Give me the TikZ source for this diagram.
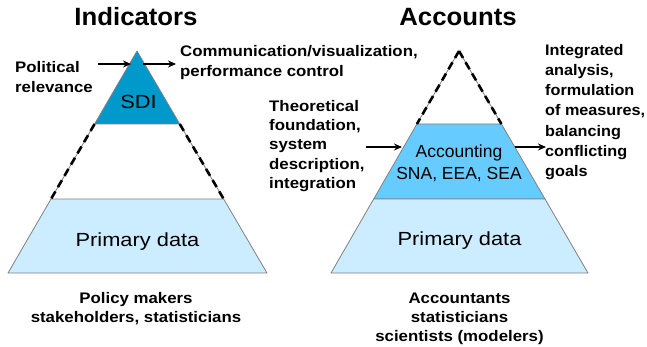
\documentclass[tikz,border=0pt]{standalone}
\usepackage{fontspec}
\setmainfont{Liberation Sans}
\newfontfamily\widefont[FakeStretch=1.15]{Liberation Sans}
\newfontfamily\labfont[FakeStretch=1.1]{Liberation Sans}
\newfontfamily\narlabfont[FakeStretch=1.06]{Liberation Sans}
\newfontfamily\titfont[FakeStretch=1.03]{Liberation Sans}
\usetikzlibrary{calc,arrows.meta}
\definecolor{sdicol}{HTML}{0099CC}
\definecolor{acccol}{HTML}{66CCFF}
\definecolor{primcol}{HTML}{CCECFF}
\definecolor{edgecol}{HTML}{808080}
\begin{document}
\begin{tikzpicture}[x=1pt,y=-1pt,
  title/.style={font=\titfont\fontsize{25}{30}\selectfont\bfseries, inner sep=0pt, anchor=base},
  lab/.style={font=\labfont\fontsize{15.3}{19.8}\selectfont\bfseries, inner sep=0pt, align=left, anchor=base west},
  botlab/.style={font=\labfont\fontsize{15.3}{19}\selectfont\bfseries, inner sep=0pt, align=center, anchor=base},
  inlab/.style={font=\widefont\fontsize{19}{22}\selectfont, inner sep=0pt, align=center, anchor=base},
  acclab/.style={font=\fontsize{17.5}{22.5}\selectfont, inner sep=0pt, align=center, anchor=base},
  layer/.style={draw=edgecol, line width=0.8pt, line join=round},
  thinedge/.style={draw=edgecol, line width=0.8pt},
  dashedge/.style={draw=black, line width=2.6pt, dash pattern=on 8pt off 5pt},
  arr/.style={draw=black, line width=2.6pt, -{Stealth[length=8pt,width=7pt]}}
]
\useasboundingbox (0,0) rectangle (647,346);
% ---------- left pyramid ----------
\coordinate (LA) at (137,51);
\coordinate (LL) at (8,273);
\coordinate (LR) at (267,273);
\coordinate (L1l) at ($(LA)!0.3288!(LL)$);
\coordinate (L1r) at ($(LA)!0.3288!(LR)$);
\coordinate (L2l) at ($(LA)!0.6667!(LL)$);
\coordinate (L2r) at ($(LA)!0.6667!(LR)$);
\filldraw[layer, fill=sdicol] (LA) -- (L1r) -- (L1l) -- cycle;
\filldraw[layer, fill=primcol] (L2l) -- (L2r) -- (LR) -- (LL) -- cycle;
\draw[thinedge] (L1l) -- (L2l);
\draw[thinedge] (L1r) -- (L2r);
\draw[dashedge] (L1l) -- (L2l);
\draw[dashedge] (L1r) -- (L2r);
% ---------- right pyramid ----------
\coordinate (RA) at (459,51);
\coordinate (RL) at (331,273);
\coordinate (RR) at (588,273);
\coordinate (R1l) at ($(RA)!0.3288!(RL)$);
\coordinate (R1r) at ($(RA)!0.3288!(RR)$);
\coordinate (R2l) at ($(RA)!0.6667!(RL)$);
\coordinate (R2r) at ($(RA)!0.6667!(RR)$);
\filldraw[layer, fill=acccol] (R1l) -- (R1r) -- (R2r) -- (R2l) -- cycle;
\filldraw[layer, fill=primcol] (R2l) -- (R2r) -- (RR) -- (RL) -- cycle;
\draw[thinedge] (RA) -- (R1l);
\draw[thinedge] (RA) -- (R1r);
\draw[dashedge] (RA) -- (R1l);
\draw[dashedge] (RA) -- (R1r);
% ---------- titles ----------
\node[title] (tind) at (136,25) {Indicators};
\node[title] (tacc) at (458,25) {Accounts};
% ---------- layer texts ----------
\node[inlab] (sdi) at (138.5,108) {SDI};
\node[inlab] (pdl) at (137.5,246) {Primary data};
\node[acclab] (acc) at (459,179.5) {Accounting\\SNA, EEA, SEA};
\node[inlab] (pdr) at (459.5,245) {Primary data};
% ---------- side labels ----------
\node[lab] (pol) at (15,92) {Political\\relevance};
\node[lab] (com) at (180,76) {Communication/visualization,\\performance control};
\node[lab, font=\labfont\fontsize{15.3}{19.3}\selectfont\bfseries] (theo) at (269,188.5) {Theoretical\\foundation,\\system\\description,\\integration};
\node[lab, font=\narlabfont\fontsize{15.3}{20.2}\selectfont\bfseries] (integ) at (545,176.5) {Integrated\\analysis,\\formulation\\of measures,\\balancing\\conflicting\\goals};
% ---------- bottom labels ----------
\node[botlab] (bl) at (136,322.5) {Policy makers\\stakeholders, statisticians};
\node[botlab] (br) at (459.5,341) {Accountants\\statisticians\\scientists (modelers)};
% ---------- arrows ----------
\coordinate (a1s) at (98,64);
\coordinate (a1e) at (131,64);
\coordinate (a2s) at (143,64);
\coordinate (a2e) at (176,64);
\coordinate (a3s) at (366,147);
\coordinate (a3e) at (402,147);
\coordinate (a4s) at (515,147);
\coordinate (a4e) at (546,147);
\draw[arr] (a1s) -- (a1e);
\draw[arr] (a2s) -- (a2e);
\draw[arr] (a3s) -- (a3e);
\draw[arr] (a4s) -- (a4e);
\end{tikzpicture}
\end{document}
